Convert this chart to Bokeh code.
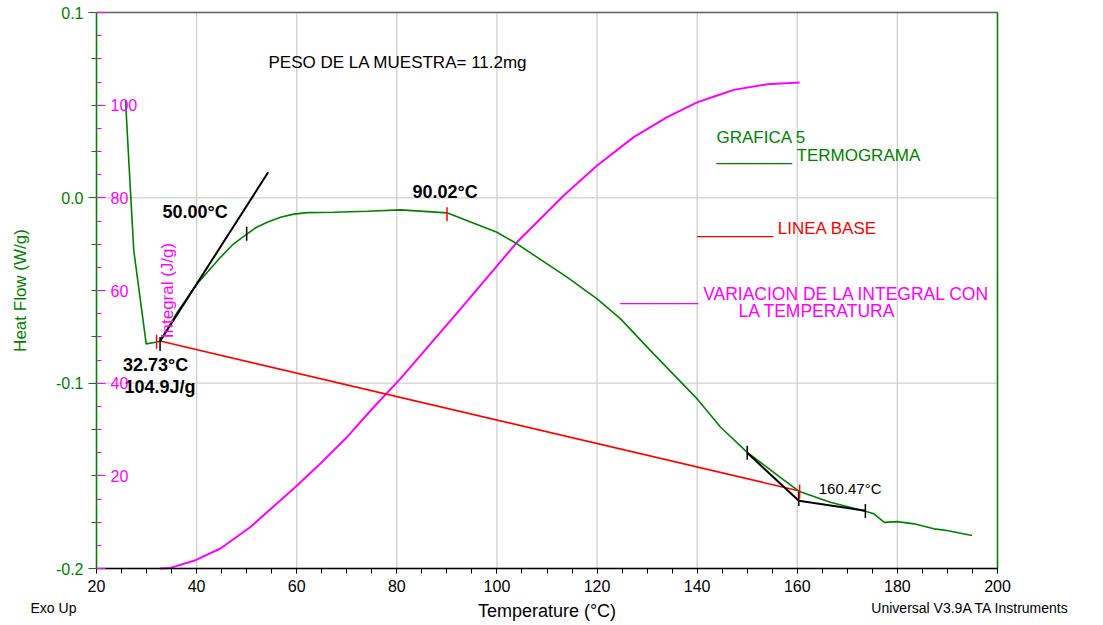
import numpy as np
from bokeh.plotting import figure
from bokeh.models import Range1d, LinearAxis, FixedTicker, NumeralTickFormatter
from bokeh.core.properties import value
from bokeh.embed import file_html
from bokeh.resources import INLINE

# ---------------- data ----------------
temp_hf = [25.8, 26.45, 27.45, 29.93, 31.79, 32.73, 36.2, 40.12, 44.77, 47.4, 49.9, 51.9,
           54.1, 56.76, 59.4, 62.1, 67.3, 74.1, 80.7, 90.0, 100.0, 104.0, 114.0, 120.0,
           124.7, 131.3, 140.0, 144.7, 150.0, 156.6, 160.3, 166.6, 173.6, 175.3, 177.4,
           180.0, 183.3, 187.3, 189.9, 194.9]
heat_flow = [0.0525, 0.0201, -0.0285, -0.0788, -0.0779, -0.0773, -0.0614, -0.0464, -0.0321,
             -0.0248, -0.0198, -0.0160, -0.0132, -0.0105, -0.0088, -0.0080, -0.0078, -0.0072,
             -0.0065, -0.0081, -0.0186, -0.0248, -0.0428, -0.0545, -0.0653, -0.0842, -0.1085,
             -0.1238, -0.1373, -0.1508, -0.1583, -0.1643, -0.1691, -0.1705, -0.1751, -0.1747,
             -0.1759, -0.1786, -0.1795, -0.1822]

temp_int = [32.73, 34.78, 39.78, 44.77, 50.76, 59.75, 64.75, 70.08, 75.41, 80.73, 92.7,
            104.04, 113.35, 120.02, 127.33, 134.0, 139.99, 144.0, 147.31, 153.98, 160.47]
integral = [0.0, 0.13, 1.79, 4.31, 8.97, 17.6, 22.65, 28.39, 34.86, 40.98, 56.0,
            70.45, 80.52, 86.99, 93.1, 97.4, 100.6, 102.1, 103.3, 104.5, 104.9]

baseline_temp = [32.73, 160.47]
baseline_hf = [-0.0773, -0.1582]
onset_tan_temp = [32.73, 54.3]
onset_tan_hf = [-0.0772, 0.0138]
end_tan_temp = [150.0, 160.3, 173.6]
end_tan_hf = [-0.1376, -0.1634, -0.1688]

mark_black_temp = [32.7, 50.0, 150.0, 160.3, 173.6]
mark_black_hf = [-0.0788, -0.0194, -0.1376, -0.1625, -0.1690]
mark_red_temp = [32.0, 90.02, 160.47]
mark_red_hf = [-0.0777, -0.0089, -0.1585]

x_ticks = [20, 40, 60, 80, 100, 120, 140, 160, 180, 200]
x_minor = list(range(20, 201, 5))
hf_ticks = [-0.2, -0.1, 0.0, 0.1]
hf_minor = [-0.175, -0.15, -0.125, -0.075, -0.05, -0.025, 0.025, 0.05, 0.075]
int_ticks = [0, 20, 40, 60, 80, 100, 120]
int_minor = list(range(0, 121, 5))

# ---------------- layout / style ----------------
FONT = "Liberation Sans"
GREEN = "#008000"
MAGENTA = "#ff00ff"
RED = "#ff0000"
GRID = "#cfcfcf"

W, H = 1103, 625
PAD_L, PAD_R, PAD_T, PAD_B = 96, 106, 12, 57          # pixel margins around the data box
X0, X1 = x_ticks[0], x_ticks[-1]
Y0, Y1 = hf_ticks[0], hf_ticks[-1]
I0, I1 = int_ticks[0], int_ticks[-1]
px_x = (W - PAD_L - PAD_R) / (X1 - X0)
px_y = (H - PAD_T - PAD_B) / (Y1 - Y0)
px_i = (H - PAD_T - PAD_B) / (I1 - I0)

# the plotting frame covers the whole canvas so that text outside the data box stays visible
p = figure(width=W, height=H, output_backend="svg", toolbar_location=None,
           x_range=Range1d(X0 - PAD_L / px_x, X1 + PAD_R / px_x),
           y_range=Range1d(Y0 - PAD_B / px_y, Y1 + PAD_T / px_y),
           min_border=0, min_border_left=0, min_border_right=0,
           min_border_top=0, min_border_bottom=0)
p.extra_y_ranges = {"integral": Range1d(I0 - PAD_B / px_i, I1 + PAD_T / px_i)}
p.outline_line_color = None
p.background_fill_color = "white"
p.border_fill_color = "white"
p.grid.visible = False

# x axis
xa = p.xaxis[0]
xa.fixed_location = Y0
xa.bounds = (X0, X1)
xa.ticker = FixedTicker(ticks=x_ticks, minor_ticks=x_minor)
xa.axis_label = "Temperature (°C)"
xa.axis_label_text_font = FONT
xa.axis_label_text_font_size = "18px"
xa.axis_label_text_font_style = "normal"
xa.axis_label_text_color = "black"
xa.axis_label_standoff = 6
xa.major_label_text_font = FONT
xa.major_label_text_font_size = "16px"
xa.major_label_text_color = "black"
xa.major_label_standoff = 6
xa.axis_line_color = "black"
xa.axis_line_width = 1.5
xa.major_tick_out = 5
xa.major_tick_in = 0
xa.minor_tick_out = 5
xa.minor_tick_in = 0
xa.major_tick_line_color = "black"
xa.minor_tick_line_color = "black"

# left heat-flow axis
ya = p.yaxis[0]
ya.fixed_location = X0
ya.bounds = (Y0, Y1)
ya.ticker = FixedTicker(ticks=hf_ticks, minor_ticks=hf_minor)
ya.formatter = NumeralTickFormatter(format="0.0")
ya.axis_label = "Heat Flow (W/g)"
ya.axis_label_text_font = FONT
ya.axis_label_text_font_size = "17px"
ya.axis_label_text_font_style = "normal"
ya.axis_label_text_color = GREEN
ya.axis_label_standoff = 23
ya.major_label_text_font = FONT
ya.major_label_text_font_size = "16px"
ya.major_label_text_color = GREEN
ya.major_label_standoff = 5
ya.axis_line_color = GREEN
ya.axis_line_width = 1.5
ya.major_tick_out = 8
ya.major_tick_in = 0
ya.minor_tick_out = 5
ya.minor_tick_in = 0
ya.major_tick_line_color = GREEN
ya.minor_tick_line_color = GREEN

# integral axis drawn inside, on the left edge of the data box
ia = LinearAxis(y_range_name="integral", fixed_location=X0, bounds=(I0, I1),
                ticker=FixedTicker(ticks=int_ticks, minor_ticks=int_minor))
ia.major_label_overrides = {0: "", 120: ""}
ia.major_label_text_font = FONT
ia.major_label_text_font_size = "16px"
ia.major_label_text_color = MAGENTA
ia.major_label_standoff = 5
ia.axis_line_color = None
ia.major_tick_out = 9
ia.major_tick_in = 0
ia.minor_tick_out = 5
ia.minor_tick_in = 0
ia.major_tick_line_color = MAGENTA
ia.minor_tick_line_color = MAGENTA
p.add_layout(ia, "right")

# grid lines limited to the data box
n_x, n_y = len(x_ticks), len(hf_ticks)
p.segment(x0=x_ticks, y0=[Y0] * n_x, x1=x_ticks, y1=[Y1] * n_x, line_color=GRID, line_width=1.3)
p.segment(x0=[X0] * n_y, y0=hf_ticks, x1=[X1] * n_y, y1=hf_ticks, line_color=GRID, line_width=1.3)

# curves
p.line(temp_int, integral, y_range_name="integral", line_color=MAGENTA, line_width=2)
p.line(baseline_temp, baseline_hf, line_color=RED, line_width=1.6)
p.line(temp_hf, heat_flow, line_color=GREEN, line_width=1.6)
p.line(onset_tan_temp, onset_tan_hf, line_color="black", line_width=2)
p.line(end_tan_temp, end_tan_hf, line_color="black", line_width=2)

# markers
p.scatter(mark_black_temp, mark_black_hf, marker="dash", angle=np.pi / 2, size=14,
          line_color="black", line_width=1.5)
p.scatter(mark_red_temp, mark_red_hf, marker="dash", angle=np.pi / 2, size=14,
          line_color=RED, line_width=1.5)

# box borders: top gray, right green
p.segment(x0=[X0], y0=[Y1], x1=[X1], y1=[Y1], line_color="#666666", line_width=1.5)
p.segment(x0=[X1], y0=[Y0], x1=[X1], y1=[Y1], line_color=GREEN, line_width=1.5)


def txt(x, y, s, color="black", size="16px", style="normal", align="left", angle=0.0):
    p.text(x=[x], y=[y], text=[s], text_color=color, text_font=value(FONT),
           text_font_size=size, text_font_style=style, text_align=align,
           text_baseline="middle", angle=angle)


txt(54.36, 0.0730, "PESO DE LA MUESTRA= 11.2mg", size="17px")
txt(143.85, 0.0324, "GRAFICA 5", color=GREEN, size="17px")
txt(143.85, 0.0228, "________ TERMOGRAMA", color=GREEN, size="17px")
txt(140.06, -0.0167, "________ LINEA BASE", color=RED, size="17px")
txt(124.67, -0.0518, "________ VARIACION DE LA INTEGRAL CON", color=MAGENTA, size="17.5px")
txt(148.25, -0.0608, "LA TEMPERATURA", color=MAGENTA, size="17.5px")
txt(33.18, -0.0078, "50.00°C", size="18px", style="bold")
txt(83.12, 0.0030, "90.02°C", size="18px", style="bold")
txt(25.3, -0.0900, "32.73°C", size="18px", style="bold")
txt(25.6, -0.1018, "104.9J/g", size="18px", style="bold")
txt(164.29, -0.1570, "160.47°C", size="15px")
txt(34.12, -0.0500, "Integral (J/g)", color=MAGENTA, size="17px", align="center", angle=np.pi / 2)
txt(6.82, -0.2211, "Exo Up", size="14px")
txt(174.8, -0.2211, "Universal V3.9A TA Instruments", size="14px")

open("out.html", "w").write(file_html(p, INLINE))
